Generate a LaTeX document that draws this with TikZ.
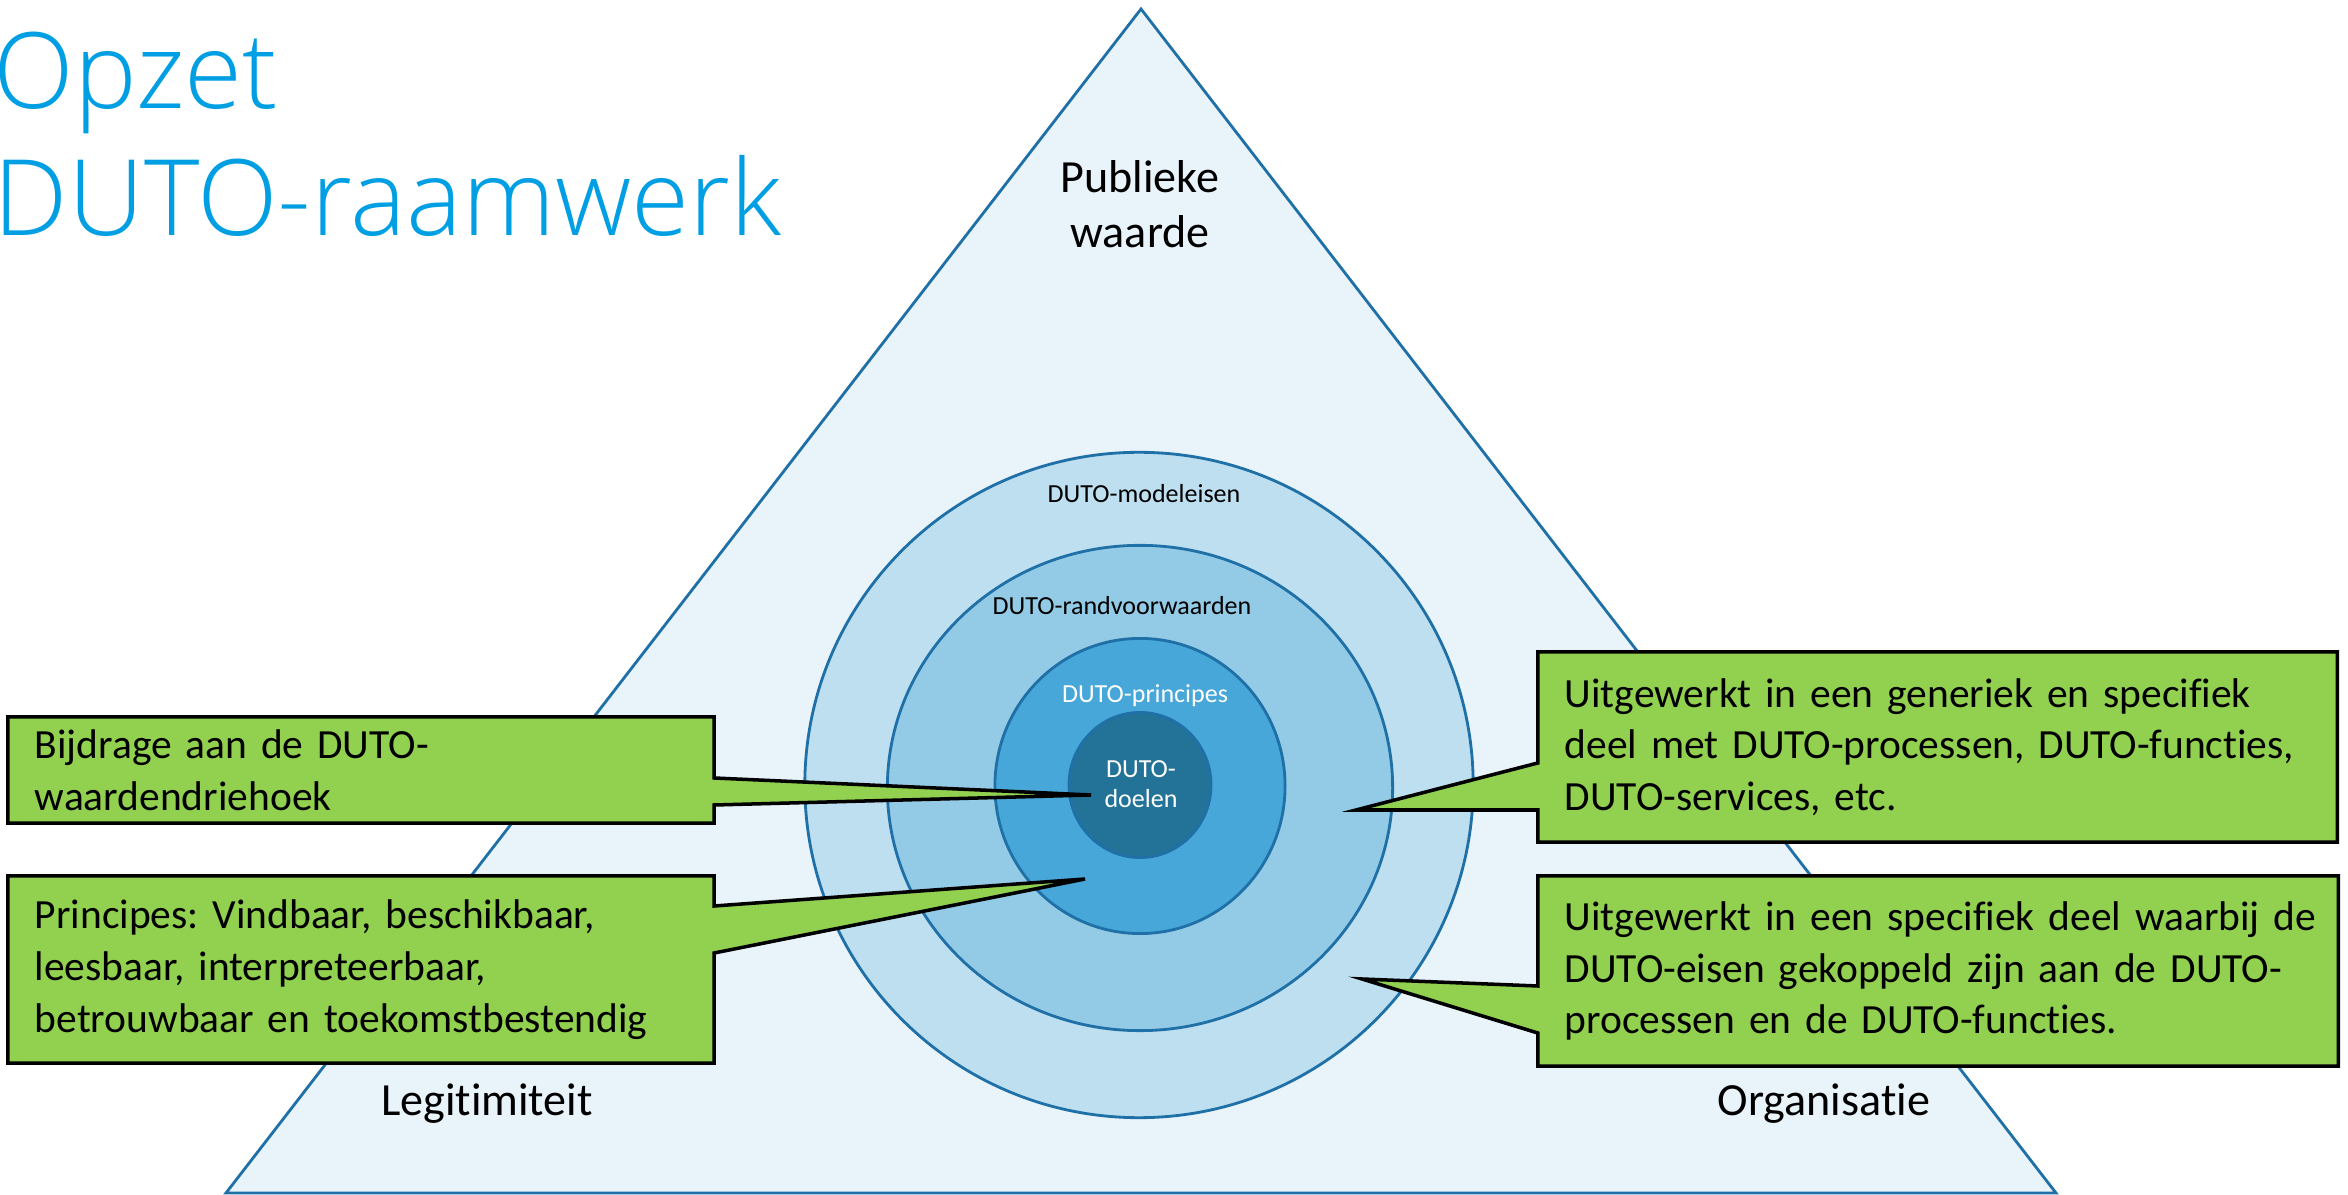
\documentclass[tikz,border=0pt]{standalone}
\usepackage{fontspec}
\setmainfont{Carlito}[Ligatures=NoCommon]
\IfFontExistsTF{Open Sans Light}
  {\newfontfamily\titelfont{Open Sans Light}}
  {\newfontfamily\titelfont{Open Sans}}
\usetikzlibrary{shapes.geometric, backgrounds}

\definecolor{cTitel}{HTML}{009FE3}
\definecolor{cVlak}{HTML}{E8F3FA}
\definecolor{cRand}{HTML}{1F70A6}
\definecolor{cRingA}{HTML}{BDDFF0}
\definecolor{cRingB}{HTML}{93CBE6}
\definecolor{cRingC}{HTML}{47A7D8}
\definecolor{cRingD}{HTML}{237399}
\definecolor{cGroen}{HTML}{92D050}

\tikzset{
  ring/.style={ellipse, draw=cRand, line width=0.8pt, inner sep=0pt},
  kader/.style={fill=cGroen, draw=black, line width=1pt, line join=miter},
  uitleg/.style={align=left, inner xsep=0.27cm, inner ysep=0pt, outer sep=0pt,
    font=\frenchspacing\fontsize{11.8}{14.7}\selectfont},
  hoek/.style={font=\fontsize{13.1}{15.7}\selectfont},
  laag/.style={font=\fontsize{7.4}{8.6}\selectfont, inner sep=0pt},
}

\begin{document}
\begin{tikzpicture}[x=0.01cm, y=-0.01cm]
    \useasboundingbox (0,0) rectangle (2348,1195);

    % driehoek en ringen
    \begin{scope}[on background layer]
        \draw[fill=cVlak, draw=cRand, line width=0.8pt] (1141,9) -- (2056,1193) -- (226,1193) -- cycle;
        \node[ring, fill=cRingA, minimum width=6.68cm, minimum height=6.65cm] (modeleisen) at (1139,785) {};
        \node[ring, fill=cRingB, minimum width=5.05cm, minimum height=4.85cm] (randvoorwaarden) at (1140,788) {};
        \node[ring, fill=cRingC, minimum width=2.90cm, minimum height=2.95cm] (principes) at (1140,786) {};
        \node[ring, fill=cRingD, minimum width=1.42cm, minimum height=1.45cm] (doelen) at (1140,785) {};
    \end{scope}

    \node[anchor=north west, align=left, inner sep=0pt, text=cTitel,
        font=\titelfont\fontsize{30}{36.1}\selectfont] (titel) at (-7,31) {Opzet\\DUTO-raamwerk};

    \node[hoek, align=center, anchor=base] (publiek) at (1140,248) {Publieke\\waarde};
    \node[hoek, anchor=base] (legitimiteit) at (487,1116) {Legitimiteit};
    \node[hoek, anchor=base] (organisatie) at (1824,1116) {Organisatie};

    \node[laag, anchor=base] (tModeleisen) at (1144,503) {DUTO-modeleisen};
    \node[laag, anchor=base] (tRandvoorwaarden) at (1122,615) {DUTO-randvoorwaarden};
    \node[laag, anchor=base, text=white] (tPrincipes) at (1145,703) {DUTO-principes};
    \node[laag, anchor=base, align=center, text=white] (tDoelen) at (1141,808) {DUTO-\\doelen};

    % uitleg
    \node[uitleg, text width=6.52cm, minimum height=1.06cm] (bijdrage) at (361,770)
        {Bijdrage aan de DUTO-\\waardendriehoek};
    \node[uitleg, text width=6.52cm, minimum height=1.87cm] (vindbaar) at (361,969.5)
        {Principes: Vindbaar, beschikbaar,\\leesbaar, interpreteerbaar,\\betrouwbaar en toekomstbestendig};
    \node[uitleg, text width=7.45cm, minimum height=1.90cm] (generiek) at (1937.5,747)
        {Uitgewerkt in een generiek en specifiek\\deel met DUTO-processen, DUTO-functies,\\DUTO-services, etc.};
    \node[uitleg, text width=7.46cm, minimum height=1.90cm] (specifiek) at (1938,971)
        {\mbox{Uitgewerkt in een specifiek deel waarbij de}\\DUTO-eisen gekoppeld zijn aan de DUTO-\\processen en de DUTO-functies.};

    \coordinate (pBijdrage) at (1091,795);
    \coordinate (pVindbaar) at (1085,879);
    \coordinate (pGeneriek) at (1356,810);
    \coordinate (pSpecifiek) at (1362,979);

    \begin{scope}[on background layer]
        \draw[kader] (bijdrage.north west) -- (bijdrage.north east) -- (bijdrage.east |- 0,778) -- (pBijdrage)
            -- (bijdrage.east |- 0,805) -- (bijdrage.south east) -- (bijdrage.south west) -- cycle;
        \draw[kader] (vindbaar.north west) -- (vindbaar.north east) -- (vindbaar.east |- 0,906) -- (pVindbaar)
            -- (vindbaar.east |- 0,953) -- (vindbaar.south east) -- (vindbaar.south west) -- cycle;
        \draw[kader] (generiek.north west) -- (generiek.north east) -- (generiek.south east) -- (generiek.south west)
            -- (generiek.west |- 0,810) -- (pGeneriek) -- (generiek.west |- 0,763) -- cycle;
        \draw[kader] (specifiek.north west) -- (specifiek.north east) -- (specifiek.south east) -- (specifiek.south west)
            -- (specifiek.west |- 0,1033) -- (pSpecifiek) -- (specifiek.west |- 0,986) -- cycle;
    \end{scope}
\end{tikzpicture}
\end{document}
